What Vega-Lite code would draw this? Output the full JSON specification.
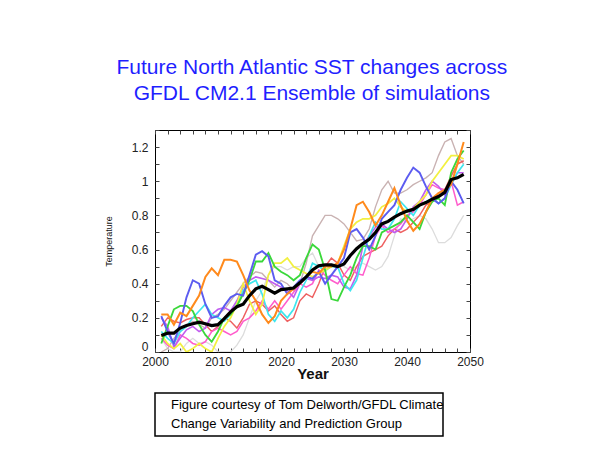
{
  "$schema": "https://vega.github.io/schema/vega-lite/v6.json",
  "background": "white",
  "padding": {"left": 103, "top": 57, "right": 5, "bottom": 5},
  "title": {
    "text": ["Future North Atlantic SST changes across", "GFDL CM2.1 Ensemble of simulations"],
    "font": "Liberation Sans",
    "fontSize": 21,
    "fontWeight": "normal",
    "color": "#1f1fff",
    "anchor": "middle",
    "lineHeight": 26,
    "offset": 25,
    "dx": 18
  },
  "config": {
    "view": {"stroke": "black", "strokeWidth": 1},
    "axis": {
      "domain": false,
      "grid": false,
      "tickColor": "#444",
      "labelFont": "Liberation Sans",
      "labelColor": "#222",
      "labelFontSize": 12,
      "titleFont": "Liberation Sans",
      "titleColor": "#111"
    }
  },
  "spacing": 10,
  "vconcat": [
    {
      "width": 315,
      "height": 222,
      "data": {
        "values": [
          {"year": 2001, "orange": 0.22, "blue": 0.21, "green": 0.05, "yellow": 0.10, "cyan": 0.12, "violet": 0.20, "pink": 0.08, "red": 0.15, "rosy": 0.00, "gray": 0.08, "mean": 0.097},
          {"year": 2002, "orange": 0.22, "blue": 0.12, "green": 0.15, "yellow": 0.05, "cyan": 0.08, "violet": 0.15, "pink": 0.04, "red": 0.20, "rosy": 0.02, "gray": 0.02, "mean": 0.11},
          {"year": 2003, "orange": 0.16, "blue": 0.05, "green": 0.25, "yellow": 0.02, "cyan": 0.05, "violet": 0.03, "pink": 0.02, "red": 0.18, "rosy": 0.08, "gray": 0.00, "mean": 0.11},
          {"year": 2004, "orange": 0.23, "blue": 0.17, "green": 0.27, "yellow": 0.05, "cyan": 0.12, "violet": 0.08, "pink": 0.10, "red": 0.17, "rosy": 0.12, "gray": 0.00, "mean": 0.14},
          {"year": 2005, "orange": 0.21, "blue": 0.32, "green": 0.27, "yellow": 0.00, "cyan": 0.15, "violet": 0.13, "pink": 0.08, "red": 0.19, "rosy": 0.15, "gray": 0.05, "mean": 0.155},
          {"year": 2006, "orange": 0.27, "blue": 0.42, "green": 0.24, "yellow": 0.02, "cyan": 0.20, "violet": 0.15, "pink": 0.05, "red": 0.20, "rosy": 0.18, "gray": 0.08, "mean": 0.165},
          {"year": 2007, "orange": 0.33, "blue": 0.40, "green": 0.16, "yellow": 0.05, "cyan": 0.24, "violet": 0.12, "pink": 0.04, "red": 0.20, "rosy": 0.16, "gray": 0.05, "mean": 0.175},
          {"year": 2008, "orange": 0.44, "blue": 0.28, "green": 0.10, "yellow": 0.02, "cyan": 0.28, "violet": 0.14, "pink": 0.06, "red": 0.16, "rosy": 0.14, "gray": 0.06, "mean": 0.165},
          {"year": 2009, "orange": 0.49, "blue": 0.20, "green": 0.06, "yellow": 0.00, "cyan": 0.22, "violet": 0.22, "pink": 0.12, "red": 0.12, "rosy": 0.20, "gray": 0.04, "mean": 0.155},
          {"year": 2010, "orange": 0.45, "blue": 0.21, "green": 0.12, "yellow": 0.08, "cyan": 0.20, "violet": 0.25, "pink": 0.14, "red": 0.15, "rosy": 0.22, "gray": 0.00, "mean": 0.16},
          {"year": 2011, "orange": 0.54, "blue": 0.27, "green": 0.20, "yellow": 0.15, "cyan": 0.18, "violet": 0.26, "pink": 0.12, "red": 0.20, "rosy": 0.25, "gray": 0.00, "mean": 0.195},
          {"year": 2012, "orange": 0.54, "blue": 0.32, "green": 0.22, "yellow": 0.20, "cyan": 0.22, "violet": 0.24, "pink": 0.10, "red": 0.18, "rosy": 0.30, "gray": 0.00, "mean": 0.235},
          {"year": 2013, "orange": 0.53, "blue": 0.34, "green": 0.27, "yellow": 0.28, "cyan": 0.28, "violet": 0.30, "pink": 0.12, "red": 0.14, "rosy": 0.35, "gray": 0.04, "mean": 0.265},
          {"year": 2014, "orange": 0.45, "blue": 0.33, "green": 0.34, "yellow": 0.40, "cyan": 0.36, "violet": 0.38, "pink": 0.18, "red": 0.20, "rosy": 0.40, "gray": 0.10, "mean": 0.28},
          {"year": 2015, "orange": 0.36, "blue": 0.45, "green": 0.42, "yellow": 0.30, "cyan": 0.40, "violet": 0.42, "pink": 0.20, "red": 0.28, "rosy": 0.44, "gray": 0.20, "mean": 0.33},
          {"year": 2016, "orange": 0.30, "blue": 0.57, "green": 0.53, "yellow": 0.22, "cyan": 0.42, "violet": 0.44, "pink": 0.24, "red": 0.30, "rosy": 0.47, "gray": 0.30, "mean": 0.37},
          {"year": 2017, "orange": 0.22, "blue": 0.59, "green": 0.53, "yellow": 0.28, "cyan": 0.34, "violet": 0.43, "pink": 0.30, "red": 0.28, "rosy": 0.46, "gray": 0.36, "mean": 0.385},
          {"year": 2018, "orange": 0.17, "blue": 0.56, "green": 0.58, "yellow": 0.45, "cyan": 0.22, "violet": 0.42, "pink": 0.25, "red": 0.24, "rosy": 0.42, "gray": 0.45, "mean": 0.365},
          {"year": 2019, "orange": 0.21, "blue": 0.42, "green": 0.50, "yellow": 0.52, "cyan": 0.18, "violet": 0.40, "pink": 0.30, "red": 0.27, "rosy": 0.38, "gray": 0.50, "mean": 0.345},
          {"year": 2020, "orange": 0.30, "blue": 0.40, "green": 0.47, "yellow": 0.52, "cyan": 0.24, "violet": 0.38, "pink": 0.25, "red": 0.22, "rosy": 0.42, "gray": 0.50, "mean": 0.365},
          {"year": 2021, "orange": 0.34, "blue": 0.34, "green": 0.45, "yellow": 0.55, "cyan": 0.20, "violet": 0.36, "pink": 0.30, "red": 0.18, "rosy": 0.40, "gray": 0.48, "mean": 0.37},
          {"year": 2022, "orange": 0.37, "blue": 0.38, "green": 0.42, "yellow": 0.50, "cyan": 0.25, "violet": 0.32, "pink": 0.35, "red": 0.20, "rosy": 0.36, "gray": 0.50, "mean": 0.375},
          {"year": 2023, "orange": 0.40, "blue": 0.42, "green": 0.45, "yellow": 0.48, "cyan": 0.35, "violet": 0.40, "pink": 0.40, "red": 0.30, "rosy": 0.40, "gray": 0.50, "mean": 0.405},
          {"year": 2024, "orange": 0.44, "blue": 0.44, "green": 0.55, "yellow": 0.46, "cyan": 0.42, "violet": 0.43, "pink": 0.38, "red": 0.34, "rosy": 0.52, "gray": 0.55, "mean": 0.44},
          {"year": 2025, "orange": 0.47, "blue": 0.43, "green": 0.63, "yellow": 0.44, "cyan": 0.52, "violet": 0.42, "pink": 0.40, "red": 0.32, "rosy": 0.68, "gray": 0.58, "mean": 0.48},
          {"year": 2026, "orange": 0.46, "blue": 0.47, "green": 0.60, "yellow": 0.46, "cyan": 0.50, "violet": 0.44, "pink": 0.48, "red": 0.40, "rosy": 0.74, "gray": 0.50, "mean": 0.505},
          {"year": 2027, "orange": 0.50, "blue": 0.40, "green": 0.48, "yellow": 0.48, "cyan": 0.48, "violet": 0.43, "pink": 0.45, "red": 0.50, "rosy": 0.80, "gray": 0.47, "mean": 0.51},
          {"year": 2028, "orange": 0.50, "blue": 0.45, "green": 0.31, "yellow": 0.50, "cyan": 0.50, "violet": 0.45, "pink": 0.42, "red": 0.55, "rosy": 0.80, "gray": 0.50, "mean": 0.51},
          {"year": 2029, "orange": 0.52, "blue": 0.50, "green": 0.30, "yellow": 0.52, "cyan": 0.50, "violet": 0.44, "pink": 0.40, "red": 0.52, "rosy": 0.78, "gray": 0.52, "mean": 0.50},
          {"year": 2030, "orange": 0.60, "blue": 0.55, "green": 0.38, "yellow": 0.62, "cyan": 0.40, "violet": 0.38, "pink": 0.45, "red": 0.45, "rosy": 0.75, "gray": 0.50, "mean": 0.515},
          {"year": 2031, "orange": 0.72, "blue": 0.70, "green": 0.45, "yellow": 0.72, "cyan": 0.36, "violet": 0.37, "pink": 0.50, "red": 0.42, "rosy": 0.70, "gray": 0.48, "mean": 0.565},
          {"year": 2032, "orange": 0.86, "blue": 0.72, "green": 0.55, "yellow": 0.76, "cyan": 0.42, "violet": 0.45, "pink": 0.46, "red": 0.50, "rosy": 0.65, "gray": 0.50, "mean": 0.605},
          {"year": 2033, "orange": 0.88, "blue": 0.67, "green": 0.62, "yellow": 0.78, "cyan": 0.55, "violet": 0.62, "pink": 0.45, "red": 0.56, "rosy": 0.66, "gray": 0.52, "mean": 0.635},
          {"year": 2034, "orange": 0.82, "blue": 0.60, "green": 0.62, "yellow": 0.78, "cyan": 0.68, "violet": 0.68, "pink": 0.55, "red": 0.58, "rosy": 0.72, "gray": 0.50, "mean": 0.66},
          {"year": 2035, "orange": 0.74, "blue": 0.68, "green": 0.60, "yellow": 0.80, "cyan": 0.76, "violet": 0.73, "pink": 0.68, "red": 0.60, "rosy": 0.85, "gray": 0.48, "mean": 0.70},
          {"year": 2036, "orange": 0.80, "blue": 0.78, "green": 0.70, "yellow": 0.85, "cyan": 0.72, "violet": 0.75, "pink": 0.74, "red": 0.62, "rosy": 0.95, "gray": 0.50, "mean": 0.75},
          {"year": 2037, "orange": 0.88, "blue": 0.82, "green": 0.72, "yellow": 0.87, "cyan": 0.72, "violet": 0.72, "pink": 0.70, "red": 0.68, "rosy": 1.00, "gray": 0.56, "mean": 0.765},
          {"year": 2038, "orange": 0.96, "blue": 0.86, "green": 0.74, "yellow": 0.90, "cyan": 0.78, "violet": 0.70, "pink": 0.72, "red": 0.72, "rosy": 0.93, "gray": 0.68, "mean": 0.79},
          {"year": 2039, "orange": 0.86, "blue": 0.95, "green": 0.76, "yellow": 0.85, "cyan": 0.88, "violet": 0.72, "pink": 0.75, "red": 0.70, "rosy": 0.93, "gray": 0.78, "mean": 0.81},
          {"year": 2040, "orange": 0.77, "blue": 1.02, "green": 0.80, "yellow": 0.82, "cyan": 0.84, "violet": 0.78, "pink": 0.80, "red": 0.72, "rosy": 0.95, "gray": 0.76, "mean": 0.825},
          {"year": 2041, "orange": 0.71, "blue": 1.08, "green": 0.76, "yellow": 0.84, "cyan": 0.80, "violet": 0.85, "pink": 0.82, "red": 0.76, "rosy": 0.98, "gray": 0.78, "mean": 0.835},
          {"year": 2042, "orange": 0.75, "blue": 1.05, "green": 0.72, "yellow": 0.88, "cyan": 0.86, "violet": 0.88, "pink": 0.86, "red": 0.80, "rosy": 1.00, "gray": 0.80, "mean": 0.86},
          {"year": 2043, "orange": 0.82, "blue": 0.97, "green": 0.82, "yellow": 0.92, "cyan": 0.88, "violet": 0.95, "pink": 0.92, "red": 0.86, "rosy": 1.02, "gray": 0.78, "mean": 0.875},
          {"year": 2044, "orange": 0.90, "blue": 0.90, "green": 0.88, "yellow": 1.00, "cyan": 0.90, "violet": 1.00, "pink": 0.98, "red": 0.88, "rosy": 1.05, "gray": 0.72, "mean": 0.895},
          {"year": 2045, "orange": 0.93, "blue": 0.87, "green": 0.90, "yellow": 1.05, "cyan": 0.87, "violet": 0.97, "pink": 0.96, "red": 0.93, "rosy": 1.15, "gray": 0.64, "mean": 0.91},
          {"year": 2046, "orange": 0.95, "blue": 0.90, "green": 0.86, "yellow": 1.10, "cyan": 0.90, "violet": 0.92, "pink": 0.95, "red": 0.95, "rosy": 1.23, "gray": 0.64, "mean": 0.935},
          {"year": 2047, "orange": 0.98, "blue": 1.00, "green": 1.05, "yellow": 1.15, "cyan": 0.98, "violet": 0.98, "pink": 1.00, "red": 1.03, "rosy": 1.25, "gray": 0.67, "mean": 1.01},
          {"year": 2048, "orange": 1.10, "blue": 0.95, "green": 1.13, "yellow": 1.15, "cyan": 1.05, "violet": 1.05, "pink": 0.86, "red": 1.10, "rosy": 1.15, "gray": 0.74, "mean": 1.02},
          {"year": 2049, "orange": 1.23, "blue": 0.87, "green": 1.18, "yellow": 1.13, "cyan": 1.10, "violet": 1.05, "pink": 0.88, "red": 1.12, "rosy": 1.10, "gray": 0.80, "mean": 1.04}
        ]
      },
      "layer": [
        {
          "transform": [
            {"fold": ["gray", "rosy", "red", "pink", "violet", "cyan", "yellow", "green", "blue", "orange"], "as": ["member", "temp"]}
          ],
          "mark": {"type": "line", "clip": true},
          "encoding": {
            "x": {
              "field": "year", "type": "quantitative",
              "scale": {"domain": [2000, 2050], "nice": false, "zero": false},
              "axis": {
                "orient": "bottom", "title": "Year", "titleFontSize": 15, "titleFontWeight": "bold", "titlePadding": -1,
                "values": [2000, 2002, 2004, 2006, 2008, 2010, 2012, 2014, 2016, 2018, 2020, 2022, 2024, 2026, 2028, 2030, 2032, 2034, 2036, 2038, 2040, 2042, 2044, 2046, 2048, 2050],
                "labelExpr": "datum.value % 10 == 0 ? format(datum.value, 'd') : ''",
                "tickSize": -4, "labelPadding": 8, "labelFlush": false
              }
            },
            "y": {
              "field": "temp", "type": "quantitative",
              "scale": {"domain": [0, 1.3], "nice": false},
              "axis": {
                "orient": "left", "title": "Temperature", "titleFontSize": 9, "titleFontWeight": "normal", "titlePadding": 18,
                "values": [0, 0.1, 0.2, 0.3, 0.4, 0.5, 0.6, 0.7, 0.8, 0.9, 1, 1.1, 1.2, 1.3],
                "labelExpr": "round(datum.value * 10) % 2 == 0 && datum.value < 1.25 ? format(datum.value, '~g') : ''",
                "labelOffset": {"condition": {"test": "datum.value == 0", "value": -6}, "value": 0},
                "tickSize": -4, "labelPadding": 11
              }
            },
            "color": {
              "field": "member", "type": "nominal", "legend": null,
              "scale": {
                "domain": ["orange", "blue", "green", "yellow", "cyan", "violet", "pink", "red", "rosy", "gray"],
                "range": ["#ff8a1c", "#5c5cf0", "#3ad83a", "#f2f040", "#3ee6ee", "#c25cf0", "#ff5ccc", "#ee6060", "#c9b2b2", "#dcdcdc"]
              }
            },
            "strokeWidth": {
              "field": "member", "type": "nominal", "legend": null,
              "scale": {
                "domain": ["orange", "blue", "green", "yellow", "cyan", "violet", "pink", "red", "rosy", "gray"],
                "range": [2, 1.3, 1.3, 1.3, 1.3, 1.3, 1.3, 1.3, 1.3, 1.3]
              }
            }
          }
        },
        {
          "mark": {"type": "line", "color": "black", "strokeWidth": 3.2, "clip": true},
          "encoding": {
            "x": {
              "field": "year", "type": "quantitative",
              "axis": {
                "orient": "top", "title": null, "labels": false, "tickSize": -4,
                "values": [2000, 2002, 2004, 2006, 2008, 2010, 2012, 2014, 2016, 2018, 2020, 2022, 2024, 2026, 2028, 2030, 2032, 2034, 2036, 2038, 2040, 2042, 2044, 2046, 2048, 2050]
              }
            },
            "y": {
              "field": "mean", "type": "quantitative",
              "axis": {
                "orient": "right", "title": null, "labels": false, "tickSize": -4,
                "values": [0, 0.1, 0.2, 0.3, 0.4, 0.5, 0.6, 0.7, 0.8, 0.9, 1, 1.1, 1.2, 1.3]
              }
            }
          }
        }
      ],
      "resolve": {"axis": {"x": "independent", "y": "independent"}}
    },
    {
      "width": 288,
      "height": 43,
      "view": {"stroke": "black", "strokeWidth": 1.5},
      "data": {
        "values": [
          {"row": 1, "line": "Figure courtesy of Tom Delworth/GFDL Climate"},
          {"row": 2, "line": "Change Variability and Prediction Group"}
        ]
      },
      "mark": {"type": "text", "align": "left", "baseline": "middle", "font": "Liberation Sans", "fontSize": 13, "color": "black", "dx": 16},
      "encoding": {
        "x": {"datum": 0, "type": "quantitative", "scale": {"domain": [0, 1]}, "axis": null},
        "y": {"field": "row", "type": "ordinal", "axis": null, "scale": {"padding": 0.68}},
        "text": {"field": "line"}
      }
    }
  ]
}
